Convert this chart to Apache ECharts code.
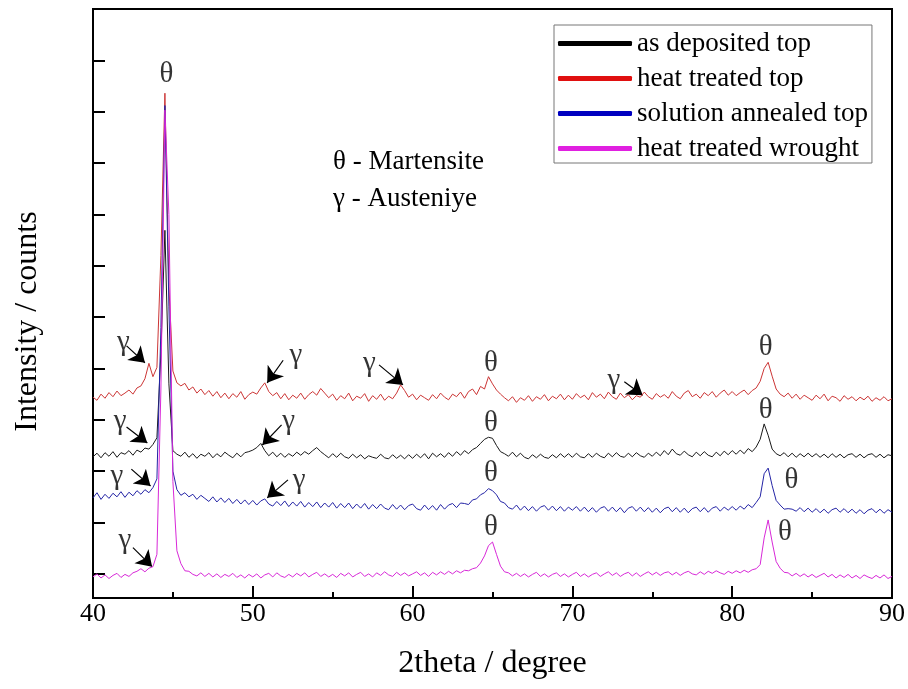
<!DOCTYPE html>
<html>
<head>
<meta charset="utf-8">
<script src="https://cdn.jsdelivr.net/npm/echarts@6/dist/echarts.min.js"></script>
<style>
  html, body { margin: 0; padding: 0; background: #fff; }
  #chart { width: 908px; height: 689px; }
</style>
</head>
<body>
<div id="chart"></div>
<script>
// XRD patterns, offset vertically, sampled every 0.25 deg from 40 to 90
const startAngle = 40;
const stepAngle = 0.25;

const asDepositedTop = [
  228, 235, 226, 236, 229, 238, 227, 236, 233, 240, 231, 241, 237, 245, 243, 252, 265, 430, 669, 370,
  240, 233, 229, 237, 227, 234, 225, 233, 229, 236, 226, 234, 228, 237, 231, 226, 235, 228, 236, 238,
  241, 246, 254, 240, 230, 237, 228, 235, 227, 234, 229, 237, 231, 238, 233, 240, 246, 238, 232, 226,
  234, 227, 235, 228, 225, 233, 226, 232, 224, 230, 227, 225, 233, 226, 224, 232, 225, 231, 224, 232,
  225, 233, 226, 234, 224, 235, 228, 234, 227, 236, 229, 238, 231, 240, 234, 242, 246, 254, 262, 266,
  264, 250, 238, 234, 229, 237, 228, 235, 227, 224, 232, 226, 233, 227, 225, 232, 226, 234, 227, 234,
  227, 235, 228, 226, 234, 227, 235, 229, 226, 235, 228, 236, 229, 227, 235, 228, 236, 230, 227, 235,
  229, 237, 230, 240, 232, 243, 234, 231, 239, 232, 228, 237, 230, 238, 231, 228, 237, 230, 239, 232,
  240, 233, 241, 234, 244, 238, 247, 262, 292, 270, 243, 234, 230, 236, 228, 235, 227, 234, 228, 235,
  228, 234, 227, 233, 226, 234, 227, 233, 226, 232, 234, 227, 233, 226, 232, 234, 227, 233, 226, 232,
  230
];

const heatTreatedTop = [
  344, 338, 350, 342, 353, 345, 356, 347, 352, 358, 350, 362, 366, 380, 410, 384, 402, 620, 936, 560,
  395, 372, 366, 371, 358, 364, 352, 360, 349, 357, 346, 355, 343, 352, 341, 351, 344, 355, 340, 349,
  354, 350, 362, 372, 355, 347, 353, 341, 351, 339, 348, 342, 352, 340, 349, 355, 348, 361, 352, 343,
  350, 338, 347, 341, 352, 337, 346, 342, 351, 336, 347, 340, 350, 338, 346, 341, 352, 368, 357, 344,
  350, 339, 348, 343, 338, 349, 341, 352, 344, 339, 350, 345, 354, 342, 355, 360, 349, 365, 360, 384,
  370, 358, 350, 343, 337, 345, 334, 343, 338, 347, 336, 345, 340, 349, 337, 346, 341, 350, 339, 348,
  340, 351, 343, 348, 339, 353, 344, 350, 341, 354, 345, 340, 352, 343, 349, 339, 347, 344, 354, 345,
  340, 351, 344, 349, 342, 355, 346, 341, 352, 357, 345, 350, 342, 353, 347, 355, 344, 352, 358, 348,
  355, 347, 353, 358, 349, 357, 362, 375, 400, 412, 385, 360, 350, 345, 352, 342, 350, 340, 348, 343,
  338, 348, 341, 350, 337, 346, 343, 336, 347, 340, 345, 337, 344, 339, 346, 336, 343, 338, 345, 337,
  341
];

const solutionAnnealedTop = [
  148, 158, 145, 155, 147, 157, 150, 160, 149, 159, 152, 162, 155, 164, 158, 168, 185, 480, 912, 520,
  200, 164, 153, 158, 150, 155, 145, 153, 147, 141, 150, 140, 148, 139, 147, 137, 145, 136, 144, 135,
  143, 134, 142, 146, 136, 132, 141, 133, 142, 131, 140, 132, 141, 130, 139, 131, 140, 129, 138, 130,
  139, 128, 137, 129, 138, 127, 136, 128, 137, 126, 135, 127, 136, 128, 125, 135, 126, 134, 125, 133,
  136, 127, 124, 134, 125, 133, 124, 135, 126, 134, 137, 129, 138, 137, 135, 144, 146, 154, 158, 166,
  162, 154, 141, 138, 129, 126, 134, 124, 132, 123, 131, 122, 130, 133, 124, 132, 123, 131, 122, 130,
  124, 131, 122, 130, 121, 129, 120, 128, 131, 122, 130, 121, 129, 119, 128, 131, 122, 130, 121, 129,
  120, 128, 119, 127, 130, 121, 129, 120, 128, 119, 127, 130, 121, 129, 120, 128, 131, 122, 130, 124,
  131, 124, 132, 126, 135, 129, 139, 150, 195, 206, 172, 143, 134, 126, 127, 126, 122, 129, 121, 128,
  120, 127, 119, 126, 118, 125, 128, 120, 127, 119, 126, 118, 125, 117, 124, 127, 119, 126, 118, 125,
  120
];

const heatTreatedWrought = [
  -6, 0, -8, -2, -9, -3, 1, -7, -1, -5, 2, 5, 10, 4, 11, 14, 38, 360, 903, 700,
  180, 45, 20, 6, 5, -1, -4, 2, -5, 1, -6, 0, -7, -1, -5, 1, -7, -2, -8, -1,
  -6, 0, -8, -2, 1, -6, 2, -4, -7, -1, -6, 1, -4, 2, -6, -1, 3, -5, 0, -6,
  -1, -7, 1, -4, 2, -6, -1, 3, -5, 0, -6, 2, -3, 4, -2, -5, 3, -3, 2, -4,
  0, 4, -3, 2, -5, 3, -2, 4, -1, 5, 0, 6, 2, 7, 6, 10, 12, 21, 35, 55,
  62, 38, 15, 4, 2, -4, 1, -5, 0, -6, -1, 3, -5, 0, -6, -1, 2, -5, 0, -6,
  -1, 3, -5, 0, -6, -1, 2, -5, 0, 4, -3, 2, -5, 0, 3, -4, 2, -5, 0, 4,
  -2, 3, -3, 2, 4, -2, 3, -3, 2, 5, 0, -2, 4, -1, 5, 1, 6, 2, -1, 5,
  1, 6, 2, 7, 3, 8, 10, 18, 70, 105, 62, 24, 11, 3, 2, -4, 1, -5, 0, -6,
  -1, -7, -3, 1, -6, -1, -8, -2, -7, -1, -8, -3, -9, -2, -6, -9, -3, -8, -2, -9,
  -5
];

const yTickValues = [0, 100, 200, 300, 400, 500, 600, 700, 800, 900, 1000];

// peak labels [2theta, intensity]
const thetaMarks = [
  [44.6, 973], [64.9, 410], [82.1, 442], [64.9, 294], [82.1, 319],
  [64.9, 196], [83.7, 183], [64.9, 91], [83.3, 80]
];
const gammaMarks = [
  [41.9, 451], [52.7, 426], [57.3, 410], [72.6, 377],
  [41.7, 296], [52.25, 296], [41.5, 189], [52.9, 183], [42.0, 66]
];
const gammaArrows = [
  [[42.1, 444], [43.25, 411]],
  [[51.9, 416], [50.9, 372]],
  [[57.9, 407], [59.4, 368]],
  [[73.25, 374], [74.4, 348]],
  [[42.1, 286], [43.4, 255]],
  [[51.8, 290], [50.6, 251]],
  [[42.4, 204], [43.6, 171]],
  [[52.2, 183], [50.9, 148]],
  [[42.5, 51], [43.7, 14]]
];

const serif = '"Liberation Serif", "Times New Roman", serif';

function pairs(values) {
  return values.map((v, i) => [startAngle + i * stepAngle, v]);
}

function trace(name, values, color) {
  return {
    name: name,
    type: 'line',
    data: pairs(values),
    showSymbol: false,
    symbol: 'none',
    lineStyle: { color: color, width: 1 },
    itemStyle: { color: color },
    silent: true
  };
}

const chart = echarts.init(document.getElementById('chart'));

const option = {
  animation: false,
  backgroundColor: '#fff',
  grid: {
    left: 93, right: 15, top: 9, bottom: 91,
    show: true, borderColor: '#000', borderWidth: 2
  },
  legend: {
    orient: 'vertical',
    left: 554,
    top: 25,
    icon: 'roundRect',
    itemWidth: 74,
    itemHeight: 5,
    itemGap: 8,
    padding: [5, 4, 1, 4],
    borderColor: '#777',
    borderWidth: 1,
    backgroundColor: '#fff',
    textStyle: { fontFamily: serif, fontSize: 27, lineHeight: 26, color: '#000' },
    data: [
      { name: 'as deposited top', itemStyle: { color: '#000' } },
      { name: 'heat treated top', itemStyle: { color: '#e01010' } },
      { name: 'solution annealed top', itemStyle: { color: '#0000c0' } },
      { name: 'heat treated wrought', itemStyle: { color: '#e020e0' } }
    ]
  },
  xAxis: {
    type: 'value',
    min: 40,
    max: 90,
    interval: 10,
    name: '2theta / degree',
    nameLocation: 'middle',
    nameGap: 50,
    nameTextStyle: { fontFamily: serif, fontSize: 32, color: '#000' },
    axisLine: { onZero: false, lineStyle: { color: '#000', width: 2 } },
    axisTick: { inside: true, length: 12, lineStyle: { color: '#000', width: 2 } },
    minorTick: { show: true, splitNumber: 2, length: 6, lineStyle: { color: '#000', width: 2 } },
    axisLabel: { fontFamily: serif, fontSize: 26, color: '#000', margin: 3 },
    splitLine: { show: false }
  },
  yAxis: {
    type: 'value',
    min: -47,
    max: 1100,
    name: 'Intensity / counts',
    nameLocation: 'middle',
    nameRotate: 90,
    nameGap: 49,
    nameTextStyle: { fontFamily: serif, fontSize: 32, color: '#000', padding: [0, 36, 0, 0] },
    axisLine: { show: true, onZero: false, lineStyle: { color: '#000', width: 2 } },
    axisTick: { show: true, inside: true, length: 12, customValues: yTickValues, lineStyle: { color: '#000', width: 2 } },
    axisLabel: { show: false },
    splitLine: { show: false }
  },
  graphic: [
    { type: 'text', left: 333, top: 148, style: { text: 'θ - Martensite', font: '27px ' + serif, fill: '#000' } },
    { type: 'text', left: 333, top: 185, style: { text: 'γ - Austeniye', font: '27px ' + serif, fill: '#000' } }
  ],
  series: [
    trace('heat treated top', heatTreatedTop, '#cc3535'),
    trace('as deposited top', asDepositedTop, '#1a1a1a'),
    trace('solution annealed top', solutionAnnealedTop, '#2424a6'),
    trace('heat treated wrought', heatTreatedWrought, '#d828d8'),
    {
      name: 'arrows',
      type: 'lines',
      coordinateSystem: 'cartesian2d',
      silent: true,
      symbol: ['none', 'arrow'],
      symbolSize: 15,
      lineStyle: { color: '#000', width: 1.2, opacity: 1 },
      data: gammaArrows.map(c => ({ coords: c }))
    },
    {
      name: 'theta',
      type: 'scatter',
      silent: true,
      symbolSize: 0,
      data: thetaMarks,
      label: { show: true, position: 'inside', formatter: 'θ', fontFamily: serif, fontSize: 29, color: '#000' }
    },
    {
      name: 'gamma',
      type: 'scatter',
      silent: true,
      symbolSize: 0,
      data: gammaMarks,
      label: { show: true, position: 'inside', formatter: 'γ', fontFamily: serif, fontSize: 29, color: '#000' }
    }
  ]
};

chart.setOption(option);
</script>
</body>
</html>
